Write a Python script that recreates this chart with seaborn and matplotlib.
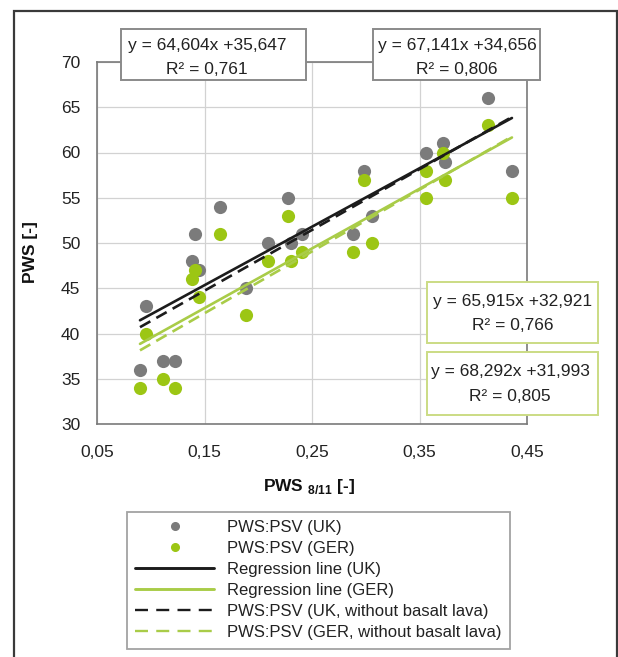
import numpy as np
import pandas as pd
import matplotlib
matplotlib.use("Agg")
import matplotlib.pyplot as plt
from matplotlib.lines import Line2D
from matplotlib.patches import Rectangle
import seaborn as sns

# Measured pairs PWS_8/11 -> PWS
x_uk = [0.090, 0.096, 0.111, 0.123, 0.138, 0.141, 0.145, 0.164, 0.189, 0.209, 0.228,
        0.230, 0.241, 0.288, 0.298, 0.306, 0.356, 0.372, 0.374, 0.414, 0.436]
pws_uk = [36, 43, 37, 37, 48, 51, 47, 54, 45, 50, 55,
          50, 51, 51, 58, 53, 60, 61, 59, 66, 58]

x_ger = [0.090, 0.096, 0.111, 0.123, 0.138, 0.141, 0.145, 0.164, 0.189, 0.209, 0.228,
         0.230, 0.241, 0.288, 0.298, 0.306, 0.356, 0.356, 0.372, 0.374, 0.414, 0.436]
pws_ger = [34, 40, 35, 34, 46, 47, 44, 51, 42, 48, 53,
           48, 49, 49, 57, 50, 58, 55, 60, 57, 63, 55]

# Regression fits: UK, GER, UK without basalt lava, GER without basalt lava
fit_names = ["uk", "ger", "uk_nb", "ger_nb"]
fit_slopes = [64.604, 65.915, 67.141, 68.292]
fit_intercepts = [35.647, 32.921, 34.656, 31.993]
fit_r2 = [0.761, 0.766, 0.806, 0.805]

x_ticks = [0.05, 0.15, 0.25, 0.35, 0.45]
y_ticks = [30, 35, 40, 45, 50, 55, 60, 65, 70]

legend_labels = ["PWS:PSV (UK)", "PWS:PSV (GER)", "Regression line (UK)",
                 "Regression line (GER)", "PWS:PSV (UK, without basalt lava)",
                 "PWS:PSV (GER, without basalt lava)"]

GRAY = "#7b7b7b"
GREEN = "#9cc614"
LINE_GREEN = "#a9cc48"
DARK = "#1c1c1c"

sns.set_style("white")
plt.rcParams["font.family"] = ["Liberation Sans", "DejaVu Sans"]
plt.rcParams["mathtext.fontset"] = "custom"
plt.rcParams["mathtext.rm"] = "Liberation Sans"
plt.rcParams["mathtext.bf"] = "Liberation Sans:bold"

fig = plt.figure(figsize=(6.18, 6.57), dpi=100)
W, H = 618, 657
ax = fig.add_axes([97 / W, 1 - 424 / H, 430 / W, 362 / H])

df_uk = pd.DataFrame({"x": x_uk, "y": pws_uk})
df_ger = pd.DataFrame({"x": x_ger, "y": pws_ger})

sns.scatterplot(data=df_uk, x="x", y="y", color=GRAY, s=90, linewidth=0,
                ax=ax, zorder=3, legend=False)
sns.scatterplot(data=df_ger, x="x", y="y", color=GREEN, s=90, linewidth=0,
                ax=ax, zorder=4, legend=False)

x_all = np.array(x_uk + x_ger)
xs = np.array([x_all.min(), x_all.max()])
fits = {n: (m, b, r) for n, m, b, r in zip(fit_names, fit_slopes, fit_intercepts, fit_r2)}
dash = (0, (4.5, 2.6))
line_styles = {
    "uk": dict(color=DARK, linestyle="-"),
    "ger": dict(color=LINE_GREEN, linestyle="-"),
    "uk_nb": dict(color=DARK, linestyle=dash),
    "ger_nb": dict(color=LINE_GREEN, linestyle=dash),
}
for n in ["ger_nb", "ger", "uk_nb", "uk"]:
    m, b, _ = fits[n]
    sns.lineplot(x=xs, y=m * xs + b, ax=ax, linewidth=1.9, zorder=5,
                 legend=False, **line_styles[n])

ax.set_xlim(0.05, 0.45)
ax.set_ylim(30, 70)
ax.set_xticks(x_ticks)
ax.set_yticks(y_ticks)
ax.set_xticklabels([f"{t:.2f}".replace(".", ",") for t in x_ticks])
ax.set_yticklabels([str(t) for t in y_ticks])
ax.set_xlabel("")
ax.set_ylabel("")
ax.grid(True, color="#d2d2d2", linewidth=0.9)
ax.set_axisbelow(True)
for sp in ax.spines.values():
    sp.set_visible(True)
    sp.set_color("#7a7a7a")
    sp.set_linewidth(1.2)
ax.tick_params(axis="both", direction="out", length=5, width=1.1, color="#7a7a7a",
               labelsize=12.5, labelcolor="#222222")
ax.tick_params(axis="y", pad=7)
ax.tick_params(axis="x", pad=10)

fig.text(30 / W, 1 - 252 / H, "PWS [-]", rotation=90, ha="center", va="center",
         fontsize=12.5, fontweight="bold", color="#111111")
fig.text(309 / W, 1 - 487 / H, r"PWS $_{\mathbf{8/11}}$ [-]", ha="center", va="center",
         fontsize=12.5, fontweight="bold", color="#111111")


def eq_lines(n):
    m, b, r = fits[n]
    l1 = f"y = {m:.3f}x +{b:.3f}".replace(".", ",")
    l2 = f"R² = {r:.3f}".replace(".", ",")
    return l1, l2


# Equation boxes: (fit, box left, top, right, bottom, text centre x, baselines, edge colour)
boxes = [
    ("uk", 121, 29, 306, 80, 207, 50, 74, "#8a8a8a"),
    ("uk_nb", 373, 29, 540, 80, 457, 50, 74, "#8a8a8a"),
    ("ger", 427, 282, 598, 343, 513, 306, 330, "#cbdc84"),
    ("ger_nb", 427, 352, 598, 415, 510, 376, 401, "#cbdc84"),
]
for n, x0, y0, x1, y1, cx, b1, b2, ec in boxes:
    fig.patches.append(Rectangle((x0 / W, 1 - y1 / H), (x1 - x0) / W, (y1 - y0) / H,
                                 transform=fig.transFigure, fc="white", ec=ec,
                                 lw=1.4, zorder=6))
    l1, l2 = eq_lines(n)
    fig.text(cx / W, 1 - b1 / H, l1, ha="center", va="baseline", fontsize=12.5,
             color="#222222", zorder=7)
    fig.text(cx / W, 1 - b2 / H, l2, ha="center", va="baseline", fontsize=12.5,
             color="#222222", zorder=7)

handles = [
    Line2D([], [], marker="o", color=GRAY, linestyle="none", markersize=5.5),
    Line2D([], [], marker="o", color=GREEN, linestyle="none", markersize=5.5),
    Line2D([], [], color=DARK, linewidth=2.1),
    Line2D([], [], color=LINE_GREEN, linewidth=2.1),
    Line2D([], [], color=DARK, linewidth=1.7, linestyle=(0, (5.5, 3.5))),
    Line2D([], [], color=LINE_GREEN, linewidth=1.7, linestyle=(0, (5.5, 3.5))),
]
leg = fig.legend(handles, legend_labels, loc="upper left",
                 bbox_to_anchor=(127 / W, 1 - 512 / H), frameon=True, fancybox=False,
                 fontsize=12, handlelength=4.7, handletextpad=0.8, labelspacing=0.36,
                 borderpad=0.5, borderaxespad=0, edgecolor="#8c8c8c",
                 labelcolor="#222222")
leg.get_frame().set_linewidth(1.3)

fig.patches.append(Rectangle((14 / W, -0.02), (617 - 14) / W, (657 - 11) / H + 0.02,
                             transform=fig.transFigure, fill=False, ec="#3a3a3a",
                             lw=1.6, zorder=-1))

fig.savefig("out.png", dpi=100, facecolor="white")
